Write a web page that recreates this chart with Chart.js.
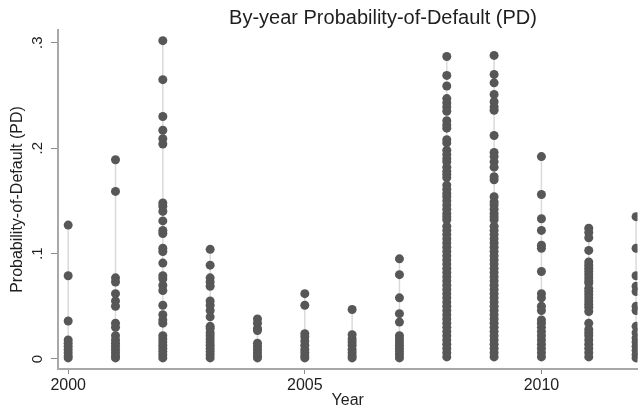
<!DOCTYPE html>
<html>
<head>
<meta charset="utf-8">
<title>By-year Probability-of-Default (PD)</title>
<script src="https://cdn.jsdelivr.net/npm/chart.js@4.4.1/dist/chart.umd.min.js"></script>
<style>
    html, body { margin: 0; padding: 0; background: #ffffff; }
    #pdChart { display: block; }
</style>
</head>
<body>
<canvas id="pdChart" width="642" height="410"></canvas>
<script>
/* Data */

const years = [2000, 2001, 2002, 2003, 2004, 2005, 2006, 2007, 2008, 2009, 2010, 2011, 2012];

const pd2000 = [0.127, 0.079, 0.036, 0.018, 0.015, 0.012, 0.009, 0.006, 0.003, 0.001];
const pd2001 = [0.189, 0.159, 0.077, 0.073, 0.062, 0.055, 0.050, 0.034, 0.030, 0.022, 0.018, 0.015, 0.012, 0.009, 0.006, 0.003, 0.001];
const pd2002 = [0.302, 0.265, 0.230, 0.217, 0.209, 0.204, 0.148, 0.145, 0.140, 0.131, 0.122, 0.119, 0.105, 0.102, 0.091,
    0.079, 0.076, 0.070, 0.065, 0.051, 0.042, 0.037, 0.034, 0.022, 0.019, 0.016, 0.013, 0.010, 0.007, 0.004, 0.001];
const pd2003 = [0.104, 0.089, 0.077, 0.073, 0.069, 0.055, 0.051, 0.046, 0.040, 0.031, 0.029, 0.025, 0.022, 0.019, 0.016,
    0.013, 0.010, 0.007, 0.004, 0.001];
const pd2004 = [0.038, 0.034, 0.029, 0.027, 0.015, 0.012, 0.009, 0.006, 0.003, 0.001];
const pd2005 = [0.062, 0.051, 0.024, 0.021, 0.017, 0.013, 0.009, 0.006, 0.003, 0.001];
const pd2006 = [0.047, 0.023, 0.019, 0.016, 0.013, 0.009, 0.006, 0.003, 0.001];
const pd2007 = [0.095, 0.080, 0.058, 0.043, 0.035, 0.022, 0.019, 0.016, 0.013, 0.010, 0.007, 0.004, 0.001];
const pd2008 = [0.287, 0.269, 0.259, 0.247, 0.243, 0.239, 0.235, 0.226, 0.222, 0.219, 0.208, 0.205, 0.198, 0.194, 0.190,
    0.187, 0.182, 0.178, 0.175, 0.172, 0.165, 0.161, 0.157, 0.154, 0.150, 0.146, 0.142, 0.138, 0.135, 0.132,
    0.126, 0.122, 0.118, 0.114, 0.110, 0.106, 0.102, 0.098, 0.094, 0.090, 0.086, 0.082, 0.078, 0.074, 0.070,
    0.066, 0.062, 0.058, 0.054, 0.050, 0.046, 0.042, 0.038, 0.034, 0.030, 0.026, 0.022, 0.018, 0.014, 0.010,
    0.006, 0.002];
const pd2009 = [0.288, 0.270, 0.262, 0.251, 0.244, 0.239, 0.236, 0.212, 0.196, 0.192, 0.187, 0.182, 0.173, 0.170, 0.154,
    0.149, 0.146, 0.142, 0.138, 0.135, 0.132, 0.126, 0.122, 0.118, 0.114, 0.110, 0.106, 0.102, 0.098, 0.094,
    0.090, 0.086, 0.082, 0.078, 0.074, 0.070, 0.066, 0.062, 0.058, 0.054, 0.050, 0.046, 0.042, 0.038, 0.034,
    0.030, 0.026, 0.022, 0.018, 0.014, 0.010, 0.006, 0.002];
const pd2010 = [0.192, 0.156, 0.133, 0.122, 0.108, 0.105, 0.083, 0.062, 0.058, 0.050, 0.046, 0.037, 0.034, 0.030, 0.026,
    0.022, 0.018, 0.014, 0.010, 0.006, 0.002];
const pd2011 = [0.124, 0.120, 0.115, 0.103, 0.092, 0.089, 0.086, 0.083, 0.080, 0.077, 0.074, 0.072, 0.067, 0.064, 0.061,
    0.058, 0.055, 0.052, 0.049, 0.045, 0.034, 0.028, 0.025, 0.022, 0.018, 0.014, 0.010, 0.006, 0.002];
const pd2012 = [0.135, 0.105, 0.079, 0.069, 0.064, 0.050, 0.046, 0.031, 0.025, 0.020, 0.016, 0.012, 0.008, 0.004, 0.001];

const pdByYear = [pd2000, pd2001, pd2002, pd2003, pd2004, pd2005, pd2006, pd2007, pd2008, pd2009, pd2010, pd2011, pd2012];

const xTickValues = [2000, 2005, 2010];
const yTickValues = [0, 0.1, 0.2, 0.3];
const yTickLabels = ["0", ".1", ".2", ".3"];

const chartTitle = "By-year Probability-of-Default (PD)";
const fontFamily = "'Liberation Sans', Arial, Helvetica, sans-serif";

/* Datasets */

const pointData = years.flatMap((year, i) =>
    pdByYear[i].map(value => ({ x: year, y: value }))
);

// light range line from min to max for each year
const rangeDatasets = years.map((year, i) => ({
    type: "line",
    data: [
        { x: year, y: Math.min(...pdByYear[i]) },
        { x: year, y: Math.max(...pdByYear[i]) }
    ],
    borderColor: "#dadada",
    borderWidth: 1.5,
    pointRadius: 0,
    order: 2
}));

/* Title + rotated y labels */

const extraText = {
    id: "extraText",
    afterDraw(chart) {
        const ctx = chart.ctx;
        const yScale = chart.scales.y;

        ctx.save();
        ctx.fillStyle = "#1e1e1e";
        ctx.font = `20px ${fontFamily}`;
        ctx.textAlign = "center";
        ctx.textBaseline = "middle";
        ctx.fillText(chartTitle, 383, 18);

        ctx.font = `15px ${fontFamily}`;
        yTickValues.forEach((value, i) => {
            const y = yScale.getPixelForValue(value);
            ctx.save();
            ctx.translate(38, y);
            ctx.rotate(-Math.PI / 2);
            ctx.fillText(yTickLabels[i], 0, 0);
            ctx.restore();
        });
        ctx.restore();
    }
};

new Chart(document.querySelector("#pdChart"), {
    type: "scatter",
    data: {
        datasets: [
            {
                data: pointData,
                backgroundColor: "#575757",
                borderWidth: 0,
                pointRadius: 4.5,
                pointHoverRadius: 4.5,
                order: 1
            },
            ...rangeDatasets
        ]
    },
    options: {
        responsive: false,
        animation: false,
        devicePixelRatio: 1,
        layout: {
            padding: { top: 30, right: 0, bottom: 0, left: 0 }
        },
        plugins: {
            legend: { display: false },
            tooltip: { enabled: false }
        },
        scales: {
            x: {
                type: "linear",
                min: 1999.785,
                max: 2012.03,
                afterBuildTicks: scale => {
                    scale.ticks = xTickValues.map(value => ({ value }));
                },
                afterFit: scale => {
                    scale.height = 41;
                },
                grid: {
                    drawOnChartArea: false,
                    tickLength: 5,
                    color: "#8a8a8a"
                },
                border: { color: "#a8a8a8", width: 2 },
                ticks: {
                    color: "#1e1e1e",
                    font: { family: fontFamily, size: 16 },
                    padding: 2,
                    maxRotation: 0,
                    callback: value => String(value)
                },
                title: {
                    display: true,
                    text: "Year",
                    color: "#1e1e1e",
                    font: { family: fontFamily, size: 16 },
                    padding: { top: 0, bottom: 0 }
                }
            },
            y: {
                type: "linear",
                min: -0.0095,
                max: 0.3121,
                afterBuildTicks: scale => {
                    scale.ticks = yTickValues.map(value => ({ value }));
                },
                afterFit: scale => {
                    scale.width = 58;
                },
                grid: {
                    drawOnChartArea: false,
                    tickLength: 7,
                    color: "#8a8a8a"
                },
                border: { color: "#a8a8a8", width: 2 },
                ticks: { display: false },
                title: {
                    display: true,
                    text: "Probability-of-Default (PD)",
                    color: "#1e1e1e",
                    font: { family: fontFamily, size: 16 },
                    padding: { top: 8, bottom: 0 }
                }
            }
        }
    },
    plugins: [extraText]
});
</script>
</body>
</html>
